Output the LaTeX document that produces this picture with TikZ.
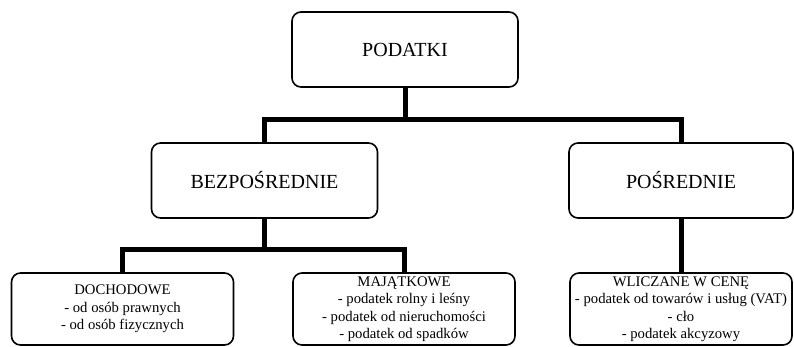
\documentclass[tikz,border=0pt]{standalone}
\usepackage{fontspec}
\setmainfont{Liberation Serif}
\begin{document}
\begin{tikzpicture}[x=1pt, y=1pt,
    box/.style={draw, line width=1.6pt, rounded corners=9pt, minimum width=226pt,
        minimum height=75pt, inner sep=0pt, font=\fontsize{20}{24}\selectfont},
    leaf/.style={draw, line width=1.6pt, rounded corners=9pt, minimum width=222pt,
        minimum height=72pt, inner sep=0pt, align=center,
        font=\fontsize{14.7}{17.5}\selectfont},
    link/.style={line width=5pt}]
    \useasboundingbox (0,0) rectangle (794,-346);

    % --- Top level ---
    \node[box] (pod) at (405,-49.5) {PODATKI};

    % --- Second level ---
    \node[box] (bez) at (264.5,-180.5) {BEZPOŚREDNIE};
    \node[box, minimum width=224pt] (posr) at (681,-180.5) {POŚREDNIE};

    % --- Third level ---
    \node[leaf] (doch) at (122.5,-309) {DOCHODOWE\\- od osób prawnych\\- od osób fizycznych};
    \node[leaf] (maj) at (404,-309) {MAJĄTKOWE\\- podatek rolny i leśny\\- podatek od nieruchomości\\- podatek od spadków};
    \node[leaf] (wlic) at (681,-309) {WLICZANE W CENĘ\\- podatek od towarów i usług (VAT)\\- cło\\- podatek akcyzowy};

    % --- Bars ---
    \coordinate (bar1) at (0,-119.5);
    \coordinate (bar2) at (0,-249.5);
    \draw[link] (pod.south) -- (pod.south |- bar1);
    \draw[link] (bez.north) |- (posr.north |- bar1) -- (posr.north);
    \draw[link] (bez.south) -- (bez.south |- bar2);
    \draw[link] (doch.north) |- (maj.north |- bar2) -- (maj.north);
    \draw[link] (posr.south) -- (wlic.north);
\end{tikzpicture}
\end{document}
